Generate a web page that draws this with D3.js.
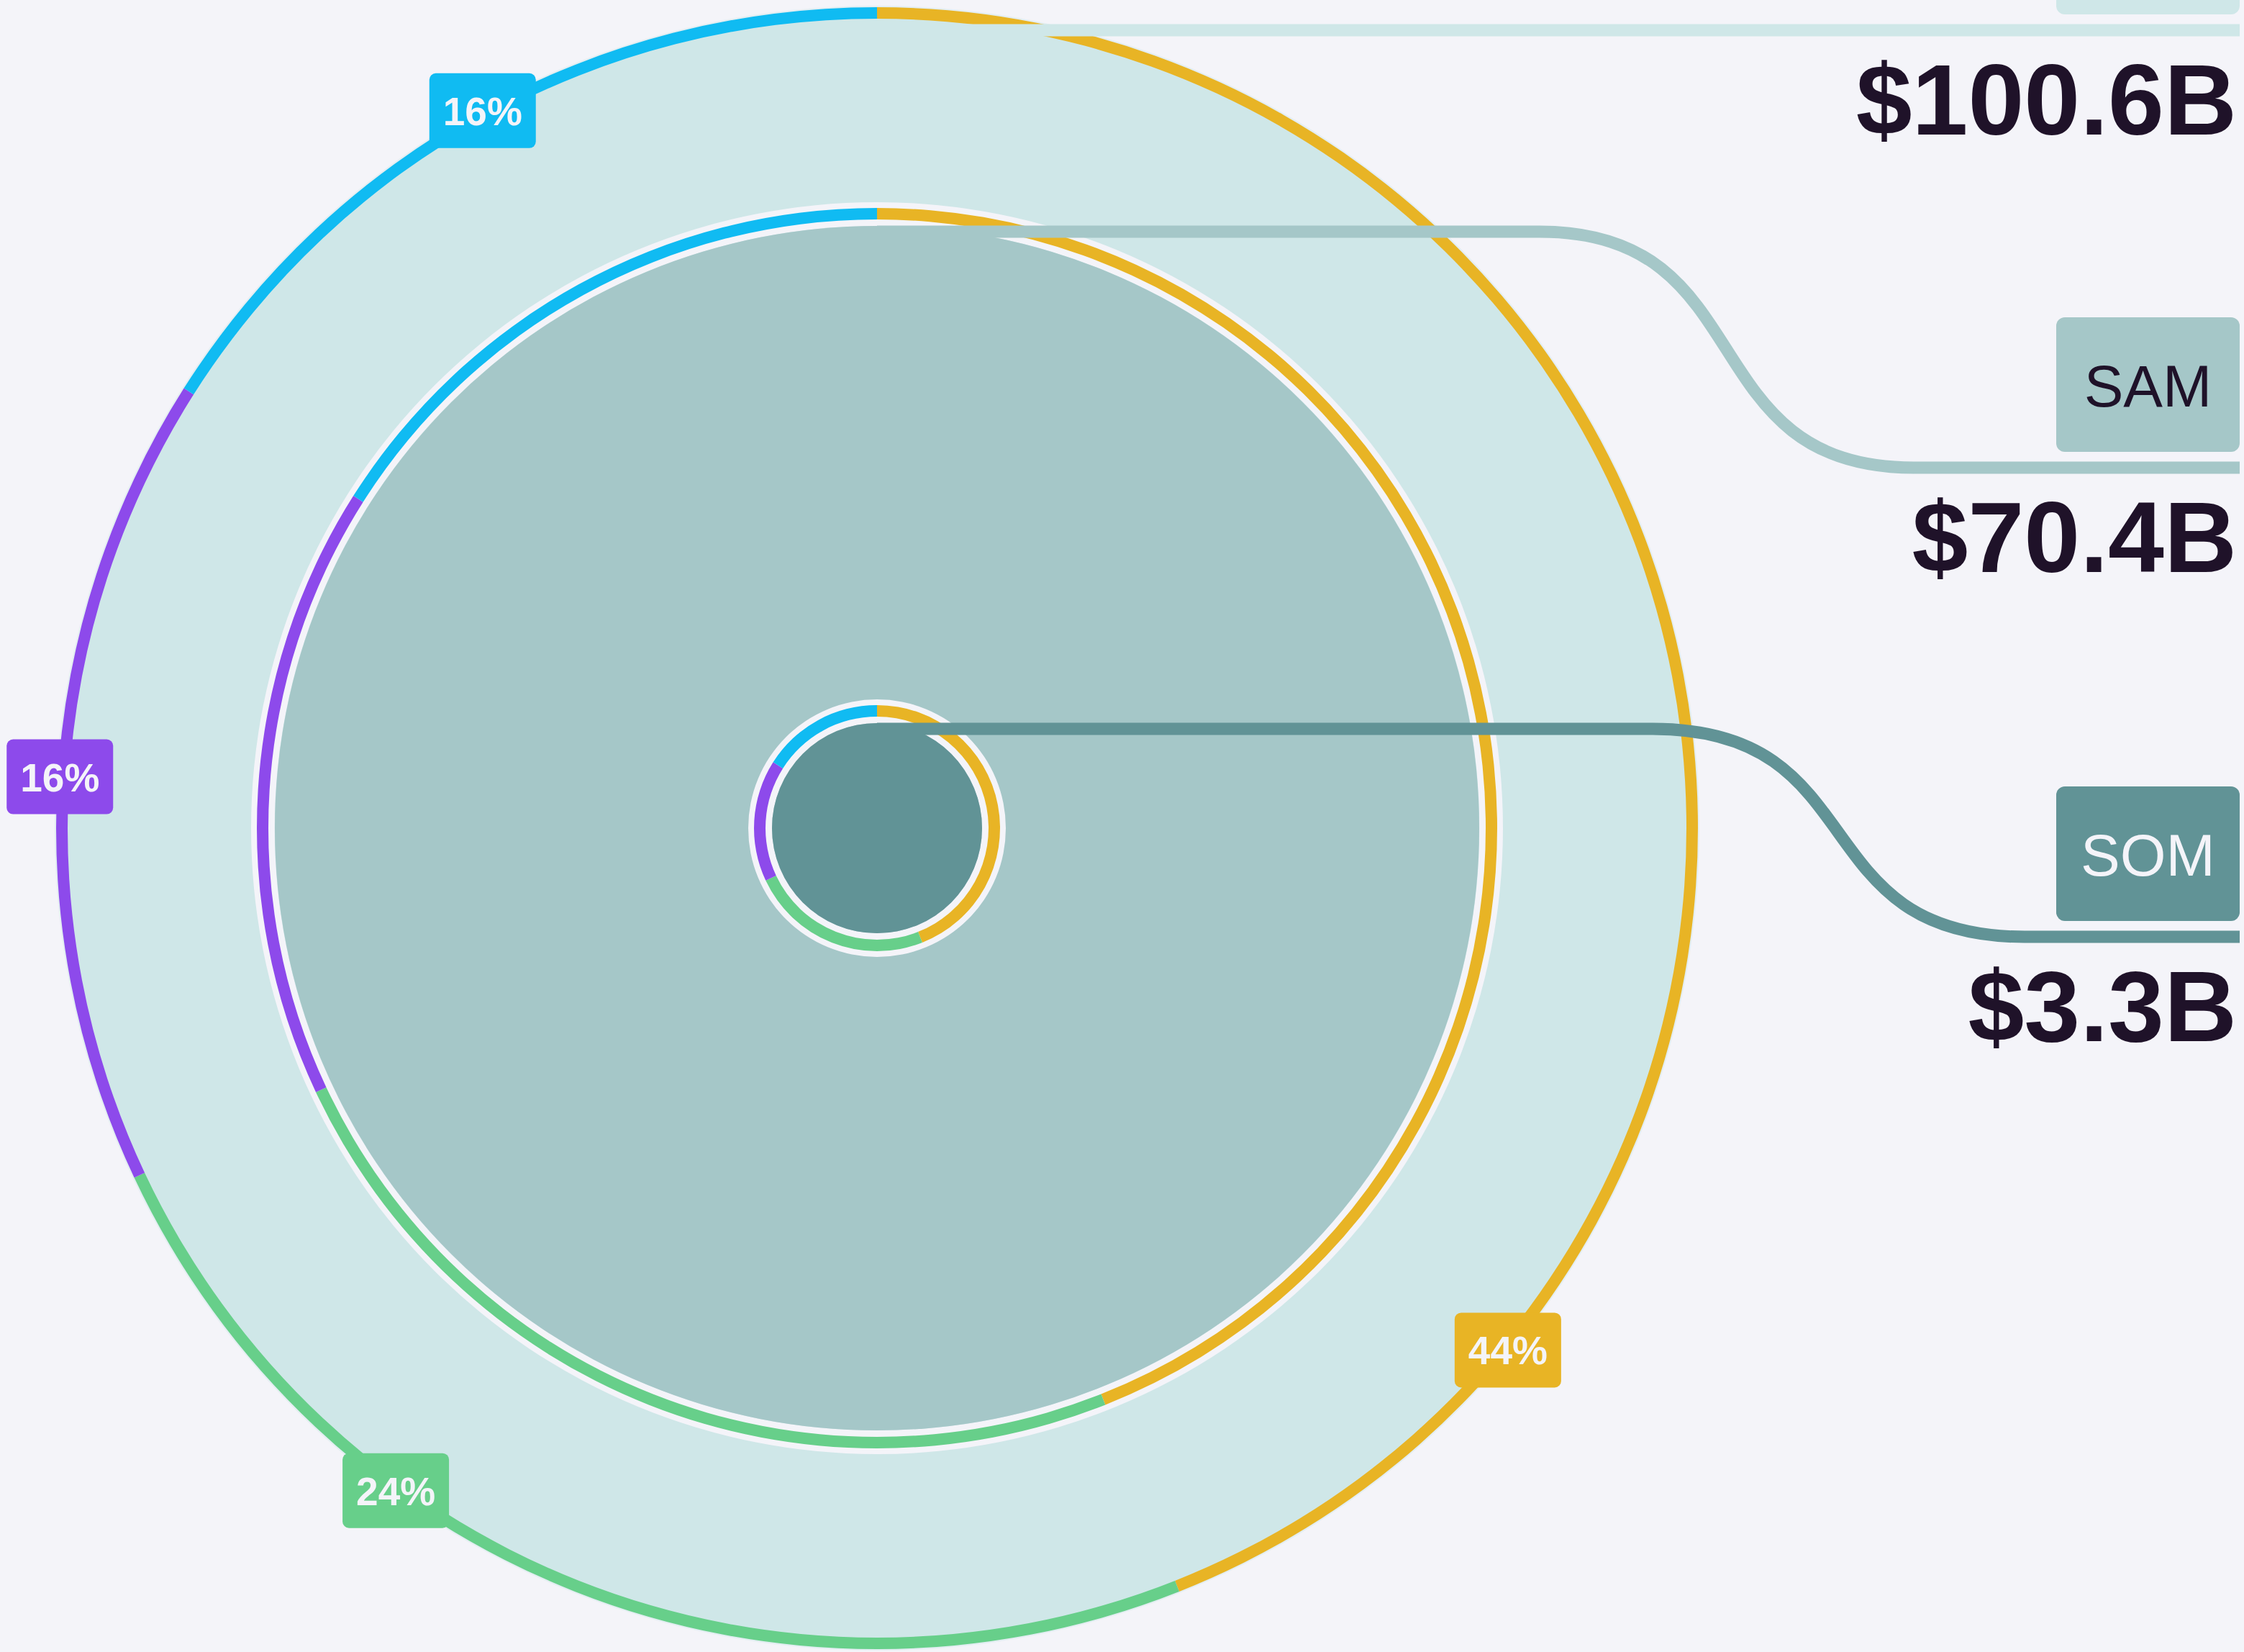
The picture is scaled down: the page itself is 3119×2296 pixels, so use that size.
<!DOCTYPE html>
<html>
<head>
    <meta charset="utf-8">
    <title>TAM / SAM / SOM</title>
    <script src="https://d3js.org/d3.v7.min.js"></script>
    <style>
        body {
            margin: 0;
            background-color: #f4f4f9;
        }
        svg {
            display: block;
        }
    </style>
</head>
<body>
<div id="chart"></div>
<script>

    // market levels and their sizes ($B)
    var levels = ["TAM", "SAM", "SOM"];
    var sizes = [100.6, 70.4, 3.3];
    var sizeLabels = ["$100.6B", "$70.4B", "$3.3B"];

    // split of each market into segments (%)
    var segments = ["seg1", "seg2", "seg3", "seg4"];
    var shares = [44, 24, 16, 16];

    var width = 3119, height = 2296;
    var cx = 1219, cy = 1151;
    var rightEdge = 3113;
    var bg = "#f4f4f9";

    var svg = d3.select("#chart")
        .append("svg")
        .attr("width", width)
        .attr("height", height)
        .style("background-color", bg);

    // radius of each disk from its market size
    var radius = d3.scaleLinear()
        .domain(d3.sort(sizes))
        .range([146, 837, 1125]);

    var levelFill = d3.scaleOrdinal()
        .domain(levels)
        .range(["#cfe7e8", "#a5c7c8", "#619396"]);

    var levelText = d3.scaleOrdinal()
        .domain(levels)
        .range(["#1f1229", "#1f1229", "#f4f4f9"]);

    var segColor = d3.scaleOrdinal()
        .domain(segments)
        .range(["#e8b425", "#67cf8a", "#8d4aeb", "#10bbf2"]);

    // where the connector leaves the horizontal and where it drops to
    var connector = {
        TAM: null,
        SAM: { x0: 2140, x1: 2660, y1: 650 },
        SOM: { x0: 2297, x1: 2814, y1: 1302 }
    };

    var pieData = d3.pie().sort(null).value(function (d) { return d; })(shares);
    pieData.forEach(function (d, i) { d.seg = segments[i]; });

    var g = svg.append("g").attr("transform", "translate(" + cx + "," + cy + ")");

    levels.forEach(function (lvl, i) {
        var r = radius(sizes[i]);
        var ringIn, ringOut;
        if (i === 0) {
            // soft halo round the outer ring
            g.append("circle")
                .attr("r", r + 18)
                .style("fill", levelFill(lvl))
                .style("opacity", 0.45);
            ringIn = r; ringOut = r + 16;
        } else {
            // light band around the ring
            g.append("path")
                .attr("d", d3.arc().innerRadius(r).outerRadius(r + 33).startAngle(0).endAngle(2 * Math.PI)())
                .style("fill", bg);
            ringIn = r + 9; ringOut = r + 25;
        }

        g.append("circle")
            .attr("r", r + (i === 0 ? 2 : 0))
            .style("fill", levelFill(lvl));

        var arc = d3.arc().innerRadius(ringIn).outerRadius(ringOut);
        g.selectAll(".ring" + lvl)
            .data(pieData)
            .enter()
            .append("path")
            .attr("class", "ring" + lvl)
            .attr("d", arc)
            .style("fill", function (d) { return segColor(d.seg); });
    });

    // connector lines, drawn over the circles
    levels.forEach(function (lvl, i) {
        var r = radius(sizes[i]);
        var y0 = cy - r + 8 + (i === 0 ? 8 : 0);
        var c = connector[lvl];
        var p = d3.path();
        p.moveTo(cx, y0);
        var yEnd = y0;
        if (c) {
            var w = c.x1 - c.x0;
            p.lineTo(c.x0, y0);
            p.bezierCurveTo(c.x0 + w * 0.6, y0, c.x1 - w * 0.6, c.y1, c.x1, c.y1);
            yEnd = c.y1;
        }
        p.lineTo(rightEdge, yEnd);

        svg.append("path")
            .attr("d", p.toString())
            .style("fill", "none")
            .style("stroke", levelFill(lvl))
            .style("stroke-width", 17);

        // name box (the TAM one sits mostly above the page)
        var bw = 255, bh = 187;
        var by = yEnd - 22 - bh;
        svg.append("rect")
            .attr("x", rightEdge - bw)
            .attr("y", by)
            .attr("width", bw)
            .attr("height", bh)
            .attr("rx", 12)
            .style("fill", levelFill(lvl));

        if (by > 0) {
            svg.append("text")
                .attr("x", rightEdge - bw / 2)
                .attr("y", by + bh / 2 + 30)
                .attr("text-anchor", "middle")
                .style("font-family", "'Liberation Sans', Arial, sans-serif")
                .style("font-size", "82px")
                .style("fill", levelText(lvl))
                .text(lvl);
        }

        // market size
        svg.append("text")
            .attr("x", rightEdge - 4)
            .attr("y", yEnd + 145)
            .attr("text-anchor", "end")
            .style("font-family", "'Liberation Sans', Arial, sans-serif")
            .style("font-weight", "bold")
            .style("font-size", "140px")
            .style("fill", "#1f1229")
            .text(sizeLabels[i]);
    });

    // percentage tags on the outer ring
    var tagR = radius(sizes[0]) + 13;
    var tags = svg.selectAll(".tag")
        .data(pieData)
        .enter()
        .append("g")
        .attr("class", "tag")
        .attr("transform", function (d) {
            var a = d.endAngle - 0.16 * Math.PI;
            return "translate(" + (cx + tagR * Math.sin(a)) + "," + (cy - tagR * Math.cos(a)) + ")";
        });

    tags.append("rect")
        .attr("x", -74)
        .attr("y", -52)
        .attr("width", 148)
        .attr("height", 104)
        .attr("rx", 9)
        .style("fill", function (d) { return segColor(d.seg); });

    tags.append("text")
        .attr("y", 20)
        .attr("text-anchor", "middle")
        .style("font-family", "'Liberation Sans', Arial, sans-serif")
        .style("font-weight", "bold")
        .style("font-size", "55px")
        .style("fill", "#f4f4f9")
        .text(function (d) { return d.data + "%"; });

</script>
</body>
</html>
